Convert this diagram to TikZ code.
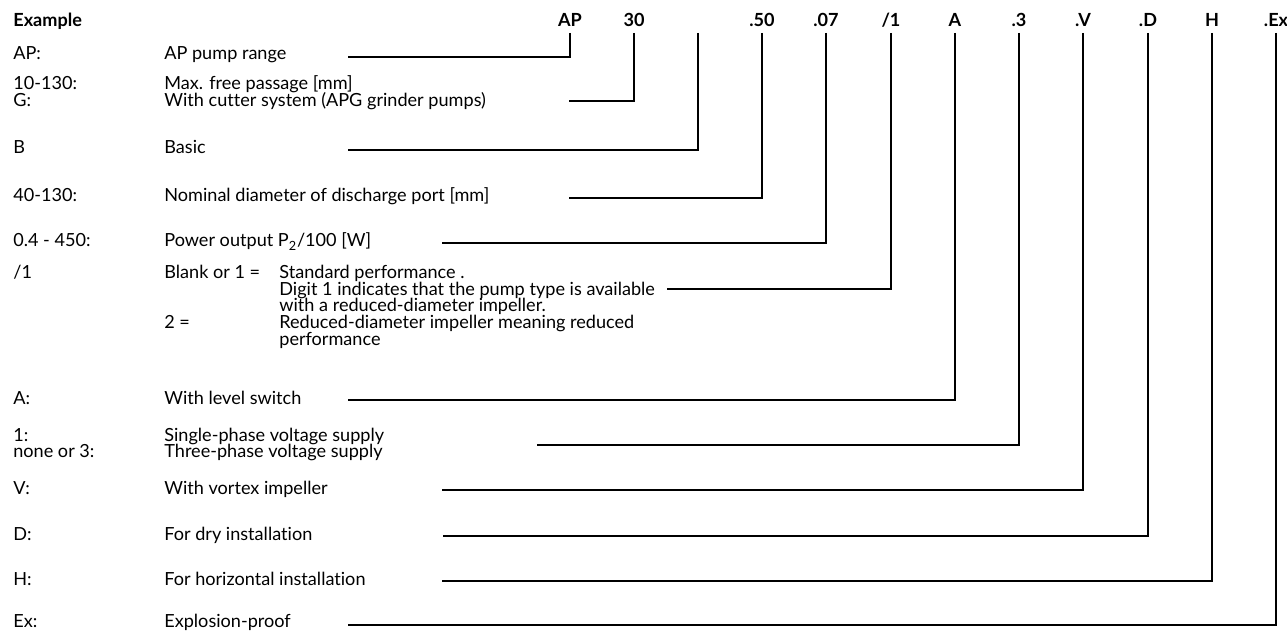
\documentclass[tikz,border=0pt]{standalone}
\usepackage{fontspec}
\setmainfont[Ligatures=NoCommon]{Lato}
\usetikzlibrary{positioning}

\tikzset{
  code/.style={font=\fontsize{10.3pt}{12pt}\selectfont\bfseries, anchor=base, inner sep=0pt},
  key/.style={font=\fontsize{10.3pt}{12pt}\selectfont, anchor=base west, inner sep=0pt},
  lead/.style={line width=1.1pt, line join=miter}
}

\begin{document}
\begin{tikzpicture}[x=0.02cm, y=-0.02cm]
    \useasboundingbox (0,0) rectangle (1287,631);
    % header: example type code
    \node[code, anchor=base west] (hdr) at (13,27) {Example};
    \node[code] (cAP) at  (570,27) {AP};
    \node[code] (cDN) at  (634,27) {30};
    \coordinate (cB)  at  (698,27);
    \node[code] (cPt) at  (762,27) {.50};
    \node[code] (cPw) at  (826,27) {.07};
    \node[code] (cPf) at  (891,27) {/1};
    \node[code] (cLv) at  (955,27) {A};
    \node[code] (cPh) at (1019,27) {.3};
    \node[code] (cVx) at (1083,27) {.V};
    \node[code] (cDr) at (1148,27) {.D};
    \node[code] (cHz) at (1212,27) {H};
    \node[code] (cEx) at (1276,27) {.Ex};
    \coordinate (top) at (0,33);
    % left column: keys
    \node[key] (kAP)  at (13,60)  {AP:};
    \node[key] (kDN)  at (13,90)  {10-130:};
    \node[key] (kG)   at (13,107) {G:};
    \node[key] (kB)   at (13,154) {B};
    \node[key] (kPt)  at (13,202) {40-130:};
    \node[key] (kPw)  at (13,247) {0.4 - 450:};
    \node[key] (kPf)  at (13,279) {/1};
    \node[key] (kLv)  at (13,404) {A:};
    \node[key] (kPh1) at (13,441) {1:};
    \node[key] (kPh3) at (13,457) {none or 3:};
    \node[key] (kVx)  at (13,494) {V:};
    \node[key] (kDr)  at (13,540) {D:};
    \node[key] (kHz)  at (13,585) {H:};
    \node[key] (kEx)  at (13,627) {Ex:};
    % right column: meanings
    \node[key] (dAP)  at (164,60)  {AP pump range};
    \node[key] (dDN)  at (164,90)  {Max. free passage [mm]};
    \node[key] (dG)   at (164,107) {With cutter system (APG grinder pumps)};
    \node[key] (dB)   at (164,154) {Basic};
    \node[key] (dPt)  at (164,202) {Nominal diameter of discharge port [mm]};
    \node[key] (dPw)  at (164,247) {Power output P\textsubscript{2}/100 [W]};
    \node[key] (dPf1) at (164,279) {Blank or 1 =};
    \node[key] (dPf2) at (279,279) {Standard performance .};
    \node[key] (dPf3) at (279,295.5) {Digit 1 indicates that the pump type is available};
    \node[key] (dPf4) at (279,312) {with a reduced-diameter impeller.};
    \node[key] (dPf5) at (164,328.5) {2 =};
    \node[key] (dPf6) at (279,328.5) {Reduced-diameter impeller meaning reduced};
    \node[key] (dPf7) at (279,345) {performance};
    \node[key] (dLv)  at (164,404) {With level switch};
    \node[key] (dPh1) at (164,441) {Single-phase voltage supply};
    \node[key] (dPh3) at (164,457) {Three-phase voltage supply};
    \node[key] (dVx)  at (164,494) {With vortex impeller};
    \node[key] (dDr)  at (164,540) {For dry installation};
    \node[key] (dHz)  at (164,585) {For horizontal installation};
    \node[key] (dEx)  at (164,627) {Explosion-proof};
    % free ends of the leaders
    \coordinate (eAP) at (348,57);
    \coordinate (eDN) at (569,101);
    \coordinate (eB)  at (348,150);
    \coordinate (ePt) at (569,198);
    \coordinate (ePw) at (442,243);
    \coordinate (ePf) at (667,289);
    \coordinate (eLv) at (348,400);
    \coordinate (ePh) at (537,445);
    \coordinate (eVx) at (442,490);
    \coordinate (eDr) at (443,536);
    \coordinate (eHz) at (442,581);
    \coordinate (eEx) at (348,625);
    % leaders
    \draw[lead] (cAP |- top) |- (eAP);
    \draw[lead] (cDN |- top) |- (eDN);
    \draw[lead] (cB  |- top) |- (eB);
    \draw[lead] (cPt |- top) |- (ePt);
    \draw[lead] (cPw |- top) |- (ePw);
    \draw[lead] (cPf |- top) |- (ePf);
    \draw[lead] (cLv |- top) |- (eLv);
    \draw[lead] (cPh |- top) |- (ePh);
    \draw[lead] (cVx |- top) |- (eVx);
    \draw[lead] (cDr |- top) |- (eDr);
    \draw[lead] (cHz |- top) |- (eHz);
    \draw[lead] (cEx |- top) |- (eEx);
\end{tikzpicture}
\end{document}
